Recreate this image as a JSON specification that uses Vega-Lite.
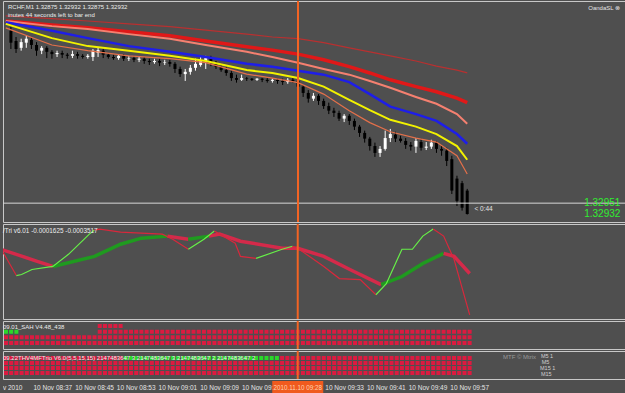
{
"$schema": "https://vega.github.io/schema/vega-lite/v6.json",
"background": "#4f4f4f",
"padding": 0,
"spacing": 2,
"bounds": "flush",
"config": {"view": {"stroke": "#c8c8c8", "strokeWidth": 1}, "text": {"font": "Liberation Sans"}, "axis": {"labelFont": "Liberation Sans"}},
"datasets": {
"candles": [
{"t":"2010-11-10T08:32:00Z","o":1.33253,"h":1.33260,"l":1.33221,"c":1.33232},
{"t":"2010-11-10T08:33:00Z","o":1.33235,"h":1.33242,"l":1.33214,"c":1.33221},
{"t":"2010-11-10T08:34:00Z","o":1.33223,"h":1.33239,"l":1.33218,"c":1.33233},
{"t":"2010-11-10T08:35:00Z","o":1.33232,"h":1.33244,"l":1.33223,"c":1.33239},
{"t":"2010-11-10T08:36:00Z","o":1.33237,"h":1.33242,"l":1.33221,"c":1.33228},
{"t":"2010-11-10T08:37:00Z","o":1.33228,"h":1.33233,"l":1.33209,"c":1.33218},
{"t":"2010-11-10T08:38:00Z","o":1.33218,"h":1.33226,"l":1.33212,"c":1.33223},
{"t":"2010-11-10T08:39:00Z","o":1.33223,"h":1.33226,"l":1.33205,"c":1.33216},
{"t":"2010-11-10T08:40:00Z","o":1.33216,"h":1.33219,"l":1.33204,"c":1.33212},
{"t":"2010-11-10T08:41:00Z","o":1.33212,"h":1.33218,"l":1.33207,"c":1.33214},
{"t":"2010-11-10T08:42:00Z","o":1.33214,"h":1.33218,"l":1.33205,"c":1.33211},
{"t":"2010-11-10T08:43:00Z","o":1.33211,"h":1.33214,"l":1.33204,"c":1.33209},
{"t":"2010-11-10T08:44:00Z","o":1.33209,"h":1.33218,"l":1.33205,"c":1.33212},
{"t":"2010-11-10T08:45:00Z","o":1.33212,"h":1.33216,"l":1.33204,"c":1.33209},
{"t":"2010-11-10T08:46:00Z","o":1.33209,"h":1.33212,"l":1.33204,"c":1.33207},
{"t":"2010-11-10T08:47:00Z","o":1.33207,"h":1.33212,"l":1.33204,"c":1.33209},
{"t":"2010-11-10T08:48:00Z","o":1.33207,"h":1.33221,"l":1.33200,"c":1.33218},
{"t":"2010-11-10T08:49:00Z","o":1.33214,"h":1.33223,"l":1.33207,"c":1.33219},
{"t":"2010-11-10T08:50:00Z","o":1.33218,"h":1.33221,"l":1.33205,"c":1.33211},
{"t":"2010-11-10T08:51:00Z","o":1.33211,"h":1.33214,"l":1.33204,"c":1.33207},
{"t":"2010-11-10T08:52:00Z","o":1.33207,"h":1.33211,"l":1.33202,"c":1.33205},
{"t":"2010-11-10T08:53:00Z","o":1.33205,"h":1.33212,"l":1.33202,"c":1.33209},
{"t":"2010-11-10T08:54:00Z","o":1.33209,"h":1.33212,"l":1.33200,"c":1.33204},
{"t":"2010-11-10T08:55:00Z","o":1.33204,"h":1.33209,"l":1.33200,"c":1.33205},
{"t":"2010-11-10T08:56:00Z","o":1.33205,"h":1.33209,"l":1.33198,"c":1.33202},
{"t":"2010-11-10T08:57:00Z","o":1.33202,"h":1.33207,"l":1.33198,"c":1.33204},
{"t":"2010-11-10T08:58:00Z","o":1.33204,"h":1.33207,"l":1.33195,"c":1.33200},
{"t":"2010-11-10T08:59:00Z","o":1.33200,"h":1.33204,"l":1.33193,"c":1.33198},
{"t":"2010-11-10T09:00:00Z","o":1.33198,"h":1.33204,"l":1.33195,"c":1.33200},
{"t":"2010-11-10T09:01:00Z","o":1.33200,"h":1.33204,"l":1.33191,"c":1.33197},
{"t":"2010-11-10T09:02:00Z","o":1.33197,"h":1.33202,"l":1.33193,"c":1.33198},
{"t":"2010-11-10T09:03:00Z","o":1.33198,"h":1.33202,"l":1.33190,"c":1.33195},
{"t":"2010-11-10T09:04:00Z","o":1.33195,"h":1.33198,"l":1.33179,"c":1.33186},
{"t":"2010-11-10T09:05:00Z","o":1.33186,"h":1.33190,"l":1.33172,"c":1.33177},
{"t":"2010-11-10T09:06:00Z","o":1.33177,"h":1.33186,"l":1.33165,"c":1.33181},
{"t":"2010-11-10T09:07:00Z","o":1.33181,"h":1.33193,"l":1.33176,"c":1.33188},
{"t":"2010-11-10T09:08:00Z","o":1.33188,"h":1.33204,"l":1.33183,"c":1.33195},
{"t":"2010-11-10T09:09:00Z","o":1.33193,"h":1.33207,"l":1.33190,"c":1.33200},
{"t":"2010-11-10T09:10:00Z","o":1.33200,"h":1.33209,"l":1.33186,"c":1.33205},
{"t":"2010-11-10T09:11:00Z","o":1.33204,"h":1.33209,"l":1.33191,"c":1.33197},
{"t":"2010-11-10T09:12:00Z","o":1.33197,"h":1.33200,"l":1.33186,"c":1.33190},
{"t":"2010-11-10T09:13:00Z","o":1.33190,"h":1.33195,"l":1.33181,"c":1.33184},
{"t":"2010-11-10T09:14:00Z","o":1.33184,"h":1.33190,"l":1.33174,"c":1.33179},
{"t":"2010-11-10T09:15:00Z","o":1.33179,"h":1.33183,"l":1.33165,"c":1.33170},
{"t":"2010-11-10T09:16:00Z","o":1.33170,"h":1.33176,"l":1.33162,"c":1.33167},
{"t":"2010-11-10T09:17:00Z","o":1.33167,"h":1.33176,"l":1.33165,"c":1.33170},
{"t":"2010-11-10T09:18:00Z","o":1.33170,"h":1.33172,"l":1.33165,"c":1.33169},
{"t":"2010-11-10T09:19:00Z","o":1.33169,"h":1.33170,"l":1.33165,"c":1.33167},
{"t":"2010-11-10T09:20:00Z","o":1.33167,"h":1.33170,"l":1.33165,"c":1.33169},
{"t":"2010-11-10T09:21:00Z","o":1.33169,"h":1.33170,"l":1.33163,"c":1.33167},
{"t":"2010-11-10T09:22:00Z","o":1.33167,"h":1.33170,"l":1.33162,"c":1.33165},
{"t":"2010-11-10T09:23:00Z","o":1.33165,"h":1.33169,"l":1.33162,"c":1.33167},
{"t":"2010-11-10T09:24:00Z","o":1.33167,"h":1.33169,"l":1.33160,"c":1.33165},
{"t":"2010-11-10T09:25:00Z","o":1.33165,"h":1.33169,"l":1.33158,"c":1.33163},
{"t":"2010-11-10T09:26:00Z","o":1.33163,"h":1.33170,"l":1.33160,"c":1.33167},
{"t":"2010-11-10T09:27:00Z","o":1.33167,"h":1.33170,"l":1.33162,"c":1.33165},
{"t":"2010-11-10T09:28:00Z","o":1.33165,"h":1.33169,"l":1.33148,"c":1.33155},
{"t":"2010-11-10T09:29:00Z","o":1.33155,"h":1.33158,"l":1.33137,"c":1.33144},
{"t":"2010-11-10T09:30:00Z","o":1.33144,"h":1.33149,"l":1.33127,"c":1.33134},
{"t":"2010-11-10T09:31:00Z","o":1.33134,"h":1.33144,"l":1.33130,"c":1.33139},
{"t":"2010-11-10T09:32:00Z","o":1.33139,"h":1.33142,"l":1.33123,"c":1.33130},
{"t":"2010-11-10T09:33:00Z","o":1.33130,"h":1.33134,"l":1.33116,"c":1.33121},
{"t":"2010-11-10T09:34:00Z","o":1.33121,"h":1.33127,"l":1.33107,"c":1.33113},
{"t":"2010-11-10T09:35:00Z","o":1.33113,"h":1.33118,"l":1.33102,"c":1.33109},
{"t":"2010-11-10T09:36:00Z","o":1.33109,"h":1.33113,"l":1.33095,"c":1.33099},
{"t":"2010-11-10T09:37:00Z","o":1.33099,"h":1.33107,"l":1.33093,"c":1.33104},
{"t":"2010-11-10T09:38:00Z","o":1.33104,"h":1.33107,"l":1.33088,"c":1.33095},
{"t":"2010-11-10T09:39:00Z","o":1.33095,"h":1.33099,"l":1.33079,"c":1.33085},
{"t":"2010-11-10T09:40:00Z","o":1.33085,"h":1.33088,"l":1.33067,"c":1.33074},
{"t":"2010-11-10T09:41:00Z","o":1.33074,"h":1.33078,"l":1.33057,"c":1.33064},
{"t":"2010-11-10T09:42:00Z","o":1.33064,"h":1.33067,"l":1.33043,"c":1.33051},
{"t":"2010-11-10T09:43:00Z","o":1.33051,"h":1.33057,"l":1.33032,"c":1.33039},
{"t":"2010-11-10T09:44:00Z","o":1.33039,"h":1.33051,"l":1.33032,"c":1.33046},
{"t":"2010-11-10T09:45:00Z","o":1.33046,"h":1.33078,"l":1.33043,"c":1.33065},
{"t":"2010-11-10T09:46:00Z","o":1.33065,"h":1.33081,"l":1.33058,"c":1.33072},
{"t":"2010-11-10T09:47:00Z","o":1.33071,"h":1.33076,"l":1.33058,"c":1.33064},
{"t":"2010-11-10T09:48:00Z","o":1.33064,"h":1.33069,"l":1.33057,"c":1.33060},
{"t":"2010-11-10T09:49:00Z","o":1.33060,"h":1.33065,"l":1.33046,"c":1.33053},
{"t":"2010-11-10T09:50:00Z","o":1.33053,"h":1.33058,"l":1.33043,"c":1.33050},
{"t":"2010-11-10T09:51:00Z","o":1.33050,"h":1.33065,"l":1.33039,"c":1.33060},
{"t":"2010-11-10T09:52:00Z","o":1.33058,"h":1.33064,"l":1.33043,"c":1.33048},
{"t":"2010-11-10T09:53:00Z","o":1.33048,"h":1.33058,"l":1.33044,"c":1.33050},
{"t":"2010-11-10T09:54:00Z","o":1.33050,"h":1.33062,"l":1.33046,"c":1.33057},
{"t":"2010-11-10T09:55:00Z","o":1.33057,"h":1.33060,"l":1.33039,"c":1.33046},
{"t":"2010-11-10T09:56:00Z","o":1.33046,"h":1.33051,"l":1.33034,"c":1.33043},
{"t":"2010-11-10T09:57:00Z","o":1.33043,"h":1.33048,"l":1.33016,"c":1.33025},
{"t":"2010-11-10T09:58:00Z","o":1.33028,"h":1.33034,"l":1.32967,"c":1.32973},
{"t":"2010-11-10T09:59:00Z","o":1.32994,"h":1.32999,"l":1.32946,"c":1.32955},
{"t":"2010-11-10T10:00:00Z","o":1.32986,"h":1.32990,"l":1.32938,"c":1.32943},
{"t":"2010-11-10T10:01:00Z","o":1.32973,"h":1.32976,"l":1.32931,"c":1.32932}
],
"ma": [
{"t":"2010-11-10T08:31:00Z","tr":1.33279,"rd":1.33270,"sa":1.33270,"bl":1.33268,"ye":1.33265,"ob":1.33258},
{"t":"2010-11-10T08:40:00Z","tr":1.33274,"rd":1.33263,"sa":1.33261,"bl":1.33253,"ye":1.33240,"ob":1.33228},
{"t":"2010-11-10T08:47:00Z","tr":1.33270,"rd":1.33258,"sa":1.33256,"bl":1.33240,"ye":1.33226,"ob":1.33218},
{"t":"2010-11-10T08:55:00Z","tr":1.33265,"rd":1.33251,"sa":1.33247,"bl":1.33226,"ye":1.33218,"ob":1.33209},
{"t":"2010-11-10T09:03:00Z","tr":1.33260,"rd":1.33244,"sa":1.33239,"bl":1.33216,"ye":1.33209,"ob":1.33204},
{"t":"2010-11-10T09:10:00Z","tr":1.33254,"rd":1.33235,"sa":1.33228,"bl":1.33207,"ye":1.33200,"ob":1.33197},
{"t":"2010-11-10T09:18:00Z","tr":1.33247,"rd":1.33225,"sa":1.33216,"bl":1.33195,"ye":1.33184,"ob":1.33177},
{"t":"2010-11-10T09:23:00Z","tr":1.33242,"rd":1.33219,"sa":1.33207,"bl":1.33190,"ye":1.33179,"ob":1.33170},
{"t":"2010-11-10T09:28:00Z","tr":1.33239,"rd":1.33212,"sa":1.33197,"bl":1.33183,"ye":1.33170,"ob":1.33162},
{"t":"2010-11-10T09:33:00Z","tr":1.33232,"rd":1.33202,"sa":1.33186,"bl":1.33176,"ye":1.33155,"ob":1.33142},
{"t":"2010-11-10T09:38:00Z","tr":1.33223,"rd":1.33190,"sa":1.33176,"bl":1.33163,"ye":1.33132,"ob":1.33113},
{"t":"2010-11-10T09:42:00Z","tr":1.33216,"rd":1.33179,"sa":1.33165,"bl":1.33142,"ye":1.33114,"ob":1.33092},
{"t":"2010-11-10T09:46:00Z","tr":1.33209,"rd":1.33167,"sa":1.33153,"bl":1.33120,"ye":1.33097,"ob":1.33076},
{"t":"2010-11-10T09:51:00Z","tr":1.33200,"rd":1.33155,"sa":1.33137,"bl":1.33107,"ye":1.33085,"ob":1.33065},
{"t":"2010-11-10T09:55:00Z","tr":1.33191,"rd":1.33146,"sa":1.33125,"bl":1.33095,"ye":1.33072,"ob":1.33058},
{"t":"2010-11-10T09:59:00Z","tr":1.33184,"rd":1.33135,"sa":1.33107,"bl":1.33072,"ye":1.33051,"ob":1.33034},
{"t":"2010-11-10T10:01:00Z","tr":1.33179,"rd":1.33127,"sa":1.33090,"bl":1.33055,"ye":1.33027,"ob":1.33002}
],
"ithk": [
{"s":"A","c":"r","t":"2010-11-10T08:31:00Z","v":-0.00011},
{"s":"A","c":"r","t":"2010-11-10T08:34:00Z","v":-0.00016},
{"s":"A","c":"r","t":"2010-11-10T08:38:00Z","v":-0.00023},
{"s":"A","c":"r","t":"2010-11-10T08:41:00Z","v":-0.00028},
{"s":"B","c":"g","t":"2010-11-10T08:41:00Z","v":-0.00028},
{"s":"B","c":"g","t":"2010-11-10T08:49:00Z","v":-0.00018},
{"s":"B","c":"g","t":"2010-11-10T08:54:00Z","v":-0.00006},
{"s":"B","c":"g","t":"2010-11-10T08:58:00Z","v":0},
{"s":"B","c":"g","t":"2010-11-10T09:03:00Z","v":0.00002},
{"s":"C","c":"r","t":"2010-11-10T09:03:00Z","v":0.00002},
{"s":"C","c":"r","t":"2010-11-10T09:07:00Z","v":-0.00001},
{"s":"D","c":"g","t":"2010-11-10T09:07:00Z","v":-0.00001},
{"s":"D","c":"g","t":"2010-11-10T09:11:00Z","v":0.00002},
{"s":"E","c":"r","t":"2010-11-10T09:11:00Z","v":0.00002},
{"s":"E","c":"r","t":"2010-11-10T09:13:00Z","v":0.00004},
{"s":"E","c":"r","t":"2010-11-10T09:17:00Z","v":-0.00003},
{"s":"E","c":"r","t":"2010-11-10T09:25:00Z","v":-0.0001},
{"s":"E","c":"r","t":"2010-11-10T09:28:00Z","v":-0.0001},
{"s":"E","c":"r","t":"2010-11-10T09:33:00Z","v":-0.00018},
{"s":"E","c":"r","t":"2010-11-10T09:38:00Z","v":-0.00031},
{"s":"E","c":"r","t":"2010-11-10T09:44:00Z","v":-0.00046},
{"s":"F","c":"g","t":"2010-11-10T09:44:00Z","v":-0.00046},
{"s":"F","c":"g","t":"2010-11-10T09:48:00Z","v":-0.00038},
{"s":"F","c":"g","t":"2010-11-10T09:52:00Z","v":-0.00025},
{"s":"F","c":"g","t":"2010-11-10T09:56:00Z","v":-0.00015},
{"s":"G","c":"r","t":"2010-11-10T09:56:00Z","v":-0.00015},
{"s":"G","c":"r","t":"2010-11-10T09:58:00Z","v":-0.00018},
{"s":"G","c":"r","t":"2010-11-10T10:01:00Z","v":-0.00035}
],
"ithn": [
{"s":"a","c":"r","t":"2010-11-10T08:31:00Z","v":-0.0001},
{"s":"a","c":"r","t":"2010-11-10T08:34:00Z","v":-0.00037},
{"s":"b","c":"g","t":"2010-11-10T08:34:00Z","v":-0.00037},
{"s":"b","c":"g","t":"2010-11-10T08:35:00Z","v":-0.00036},
{"s":"b","c":"g","t":"2010-11-10T08:37:00Z","v":-0.00031},
{"s":"b","c":"g","t":"2010-11-10T08:41:00Z","v":-0.00028},
{"s":"b","c":"g","t":"2010-11-10T08:44:00Z","v":-0.00016},
{"s":"b","c":"g","t":"2010-11-10T08:48:00Z","v":0.00004},
{"s":"b","c":"g","t":"2010-11-10T08:49:00Z","v":0.00008},
{"s":"c","c":"r","t":"2010-11-10T08:49:00Z","v":0.00008},
{"s":"c","c":"r","t":"2010-11-10T08:50:00Z","v":0.00009},
{"s":"c","c":"r","t":"2010-11-10T08:54:00Z","v":0.00006},
{"s":"c","c":"r","t":"2010-11-10T09:02:00Z","v":0.00004},
{"s":"c","c":"r","t":"2010-11-10T09:04:00Z","v":-0.00001},
{"s":"c","c":"r","t":"2010-11-10T09:07:00Z","v":-0.00011},
{"s":"d","c":"g","t":"2010-11-10T09:07:00Z","v":-0.00011},
{"s":"d","c":"g","t":"2010-11-10T09:10:00Z","v":-0.00001},
{"s":"d","c":"g","t":"2010-11-10T09:12:00Z","v":0.00007},
{"s":"e","c":"r","t":"2010-11-10T09:12:00Z","v":0.00007},
{"s":"e","c":"r","t":"2010-11-10T09:16:00Z","v":-0.00005},
{"s":"e","c":"r","t":"2010-11-10T09:17:00Z","v":-0.00018},
{"s":"e","c":"r","t":"2010-11-10T09:20:00Z","v":-0.0002},
{"s":"f","c":"g","t":"2010-11-10T09:20:00Z","v":-0.0002},
{"s":"f","c":"g","t":"2010-11-10T09:25:00Z","v":-0.00011},
{"s":"f","c":"g","t":"2010-11-10T09:27:00Z","v":-0.00008},
{"s":"g","c":"r","t":"2010-11-10T09:27:00Z","v":-0.00008},
{"s":"g","c":"r","t":"2010-11-10T09:28:00Z","v":-0.0001},
{"s":"g","c":"r","t":"2010-11-10T09:33:00Z","v":-0.00028},
{"s":"g","c":"r","t":"2010-11-10T09:36:00Z","v":-0.0004},
{"s":"g","c":"r","t":"2010-11-10T09:40:00Z","v":-0.00041},
{"s":"g","c":"r","t":"2010-11-10T09:43:00Z","v":-0.00056},
{"s":"h","c":"g","t":"2010-11-10T09:43:00Z","v":-0.00056},
{"s":"h","c":"g","t":"2010-11-10T09:45:00Z","v":-0.00045},
{"s":"h","c":"g","t":"2010-11-10T09:48:00Z","v":-0.00011},
{"s":"h","c":"g","t":"2010-11-10T09:50:00Z","v":-0.00011},
{"s":"h","c":"g","t":"2010-11-10T09:52:00Z","v":0.00002},
{"s":"h","c":"g","t":"2010-11-10T09:54:00Z","v":0.00009},
{"s":"i","c":"r","t":"2010-11-10T09:54:00Z","v":0.00009},
{"s":"i","c":"r","t":"2010-11-10T09:56:00Z","v":0.00002},
{"s":"i","c":"r","t":"2010-11-10T09:58:00Z","v":-0.00021},
{"s":"i","c":"r","t":"2010-11-10T10:01:00Z","v":-0.00076}
],
"sq3": [
{"row":1,"s":"dn","t0":"2010-11-10T08:49:30Z","t1":"2010-11-10T08:54:30Z"},
{"row":2,"s":"up","t0":"2010-11-10T08:31:30Z","t1":"2010-11-10T08:34:30Z"},
{"row":2,"s":"dn","t0":"2010-11-10T08:49:30Z","t1":"2010-11-10T10:01:30Z"},
{"row":3,"s":"dn","t0":"2010-11-10T08:31:30Z","t1":"2010-11-10T10:01:30Z"},
{"row":4,"s":"dn","t0":"2010-11-10T08:31:30Z","t1":"2010-11-10T10:01:30Z"}
],
"sq4": [
{"row":1,"s":"dn","t0":"2010-11-10T08:31:30Z","t1":"2010-11-10T08:54:30Z"},
{"row":1,"s":"up","t0":"2010-11-10T08:54:30Z","t1":"2010-11-10T09:24:30Z"},
{"row":1,"s":"dn","t0":"2010-11-10T09:24:30Z","t1":"2010-11-10T10:01:30Z"},
{"row":2,"s":"dn","t0":"2010-11-10T08:31:30Z","t1":"2010-11-10T10:01:30Z"},
{"row":3,"s":"dn","t0":"2010-11-10T08:31:30Z","t1":"2010-11-10T10:01:30Z"},
{"row":4,"s":"dn","t0":"2010-11-10T08:31:30Z","t1":"2010-11-10T10:01:30Z"}
],
"xlabels": [
{"t":"2010-11-10T08:37:00Z","label":"10 Nov 08:37"},
{"t":"2010-11-10T08:45:00Z","label":"10 Nov 08:45"},
{"t":"2010-11-10T08:53:00Z","label":"10 Nov 08:53"},
{"t":"2010-11-10T09:01:00Z","label":"10 Nov 09:01"},
{"t":"2010-11-10T09:09:00Z","label":"10 Nov 09:09"},
{"t":"2010-11-10T09:17:00Z","label":"10 Nov 09:17"},
{"t":"2010-11-10T09:33:00Z","label":"10 Nov 09:33"},
{"t":"2010-11-10T09:41:00Z","label":"10 Nov 09:41"},
{"t":"2010-11-10T09:49:00Z","label":"10 Nov 09:49"},
{"t":"2010-11-10T09:57:00Z","label":"10 Nov 09:57"}
],
"cursor": [{"t":"2010-11-10T09:28:00Z","label":"2010.11.10 09:28"}]
},
"vconcat": [
{
"width": 625, "height": 221,
"layer": [
{"data":{"name":"candles"},"mark":{"type":"rule","strokeWidth":1},
"encoding":{
"x":{"field":"t","type":"temporal","scale":{"type":"utc","domain":[1289377886000,1289385083000]},"axis":{"values":[1289378220000,1289378700000,1289379180000,1289379660000,1289380140000,1289380620000,1289381100000,1289381580000,1289382060000,1289382540000,1289383020000,1289383500000,1289383980000,1289384460000,1289384940000],"grid":true,"gridColor":"#7a7a7a","gridDash":[2,2],"labels":false,"ticks":false,"domain":false,"title":null}},
"y":{"field":"l","type":"quantitative","scale":{"domain":[1.32918,1.33305],"zero":false,"nice":false},"axis":{"values":[1.32952,1.3299,1.33028,1.33066,1.33104,1.33142,1.3318,1.33218,1.33256,1.33294],"grid":true,"gridColor":"#7a7a7a","gridDash":[2,2],"labels":false,"ticks":false,"domain":false,"title":null,"minExtent":0}},
"y2":{"field":"h"},
"color":{"condition":{"test":"datum.c >= datum.o","value":"#ffffff"},"value":"#000000"}}},
{"data":{"name":"candles"},"mark":{"type":"bar","size":3},
"encoding":{
"x":{"field":"t","type":"temporal","scale":{"type":"utc","domain":[1289377886000,1289385083000]},"axis":null},
"y":{"field":"o","type":"quantitative","scale":{"domain":[1.32918,1.33305],"zero":false,"nice":false},"axis":null},
"y2":{"field":"c"},
"color":{"condition":{"test":"datum.c >= datum.o","value":"#ffffff"},"value":"#000000"}}},
{"data":{"name":"ma"},"mark":{"type":"line","color":"#b83030","strokeWidth":1.2,"clip":true},
"encoding":{"x":{"field":"t","type":"temporal","axis":null},"y":{"field":"tr","type":"quantitative","axis":null}}},
{"data":{"name":"ma"},"mark":{"type":"line","color":"#e01818","strokeWidth":3.5,"clip":true},
"encoding":{"x":{"field":"t","type":"temporal","axis":null},"y":{"field":"rd","type":"quantitative","axis":null}}},
{"data":{"name":"ma"},"mark":{"type":"line","color":"#f58070","strokeWidth":2,"clip":true},
"encoding":{"x":{"field":"t","type":"temporal","axis":null},"y":{"field":"sa","type":"quantitative","axis":null}}},
{"data":{"name":"ma"},"mark":{"type":"line","color":"#1e1ee8","strokeWidth":2.5,"clip":true},
"encoding":{"x":{"field":"t","type":"temporal","axis":null},"y":{"field":"bl","type":"quantitative","axis":null}}},
{"data":{"name":"ma"},"mark":{"type":"line","color":"#f2f200","strokeWidth":2,"clip":true},
"encoding":{"x":{"field":"t","type":"temporal","axis":null},"y":{"field":"ye","type":"quantitative","axis":null}}},
{"data":{"name":"ma"},"mark":{"type":"line","color":"#e4704a","strokeWidth":1.2,"clip":true},
"encoding":{"x":{"field":"t","type":"temporal","axis":null},"y":{"field":"ob","type":"quantitative","axis":null}}},
{"data":{"values":[{"p":1.32951}]},"mark":{"type":"rule","color":"#d8d8d8","strokeWidth":1},
"encoding":{"y":{"field":"p","type":"quantitative","axis":null}}},
{"data":{"name":"cursor"},"mark":{"type":"rule","color":"#f26424","strokeWidth":2,"clip":true},
"encoding":{"x":{"field":"t","type":"temporal","axis":null}}},
{"data":{"values":[{"t":"2010-11-10T08:31:26Z","p":1.33294,"label":"RCHF,M1 1.32875 1.32932 1.32875 1.32932"},{"t":"2010-11-10T08:31:26Z","p":1.33281,"label":"inutes 44 seconds left to bar end"}]},
"mark":{"type":"text","align":"left","baseline":"middle","fontSize":6,"color":"#ececec"},
"encoding":{"x":{"field":"t","type":"temporal","axis":null},"y":{"field":"p","type":"quantitative","axis":null},"text":{"field":"label"}}},
{"data":{"values":[{"t":"2010-11-10T10:02:25Z","p":1.32941,"label":"< 0:44"}]},
"mark":{"type":"text","align":"left","baseline":"middle","fontSize":6.5,"color":"#e4e4e4"},
"encoding":{"x":{"field":"t","type":"temporal","axis":null},"y":{"field":"p","type":"quantitative","axis":null},"text":{"field":"label"}}},
{"data":{"values":[{"t":"2010-11-10T10:30:49Z","p":1.33293,"label":"OandaSL ⊗"}]},
"mark":{"type":"text","align":"right","baseline":"middle","fontSize":6,"color":"#e4e4e4"},
"encoding":{"x":{"field":"t","type":"temporal","axis":null},"y":{"field":"p","type":"quantitative","axis":null},"text":{"field":"label"}}},
{"data":{"values":[{"t":"2010-11-10T10:30:52Z","p":1.32951,"label":"1.32951"},{"t":"2010-11-10T10:30:52Z","p":1.32932,"label":"1.32932"}]},
"mark":{"type":"text","align":"right","baseline":"middle","fontSize":10,"color":"#30f030"},
"encoding":{"x":{"field":"t","type":"temporal","axis":null},"y":{"field":"p","type":"quantitative","axis":null},"text":{"field":"label"}}}
]
},
{
"width": 625, "height": 95,
"layer": [
{"data":{"name":"ithk"},"mark":{"type":"line","strokeWidth":3.5,"clip":true},
"encoding":{
"x":{"field":"t","type":"temporal","scale":{"type":"utc","domain":[1289377886000,1289385083000]},"axis":{"values":[1289378220000,1289378700000,1289379180000,1289379660000,1289380140000,1289380620000,1289381100000,1289381580000,1289382060000,1289382540000,1289383020000,1289383500000,1289383980000,1289384460000,1289384940000],"grid":true,"gridColor":"#7a7a7a","gridDash":[2,2],"labels":false,"ticks":false,"domain":false,"title":null}},
"y":{"field":"v","type":"quantitative","scale":{"domain":[-0.0008,0.00014],"zero":false,"nice":false},"axis":{"values":[0],"grid":true,"gridColor":"#a8a8a8","gridDash":[3,3],"labels":false,"ticks":false,"domain":false,"title":null,"minExtent":0}},
"detail":{"field":"s"},
"color":{"condition":{"test":"datum.c == 'g'","value":"#1f9a1f"},"value":"#d42a4a"}}},
{"data":{"name":"ithn"},"mark":{"type":"line","strokeWidth":1.2,"clip":true},
"encoding":{
"x":{"field":"t","type":"temporal","axis":null},
"y":{"field":"v","type":"quantitative","axis":null},
"detail":{"field":"s"},
"color":{"condition":{"test":"datum.c == 'g'","value":"#66f048"},"value":"#d8283c"}}},
{"data":{"name":"cursor"},"mark":{"type":"rule","color":"#f26424","strokeWidth":2,"clip":true},
"encoding":{"x":{"field":"t","type":"temporal","axis":null}}},
{"data":{"values":[{"t":"2010-11-10T08:31:26Z","v":0.00007,"label":"/Tri v6.01 -0.0001625 -0.0003517"}]},
"mark":{"type":"text","align":"left","baseline":"middle","fontSize":6.4,"color":"#ececec"},
"encoding":{"x":{"field":"t","type":"temporal","axis":null},"y":{"field":"v","type":"quantitative","axis":null},"text":{"field":"label"}}}
]
},
{
"width": 625, "height": 28,
"layer": [
{"data":{"name":"sq3"},"mark":{"type":"rule","strokeWidth":4,"strokeDash":[4,1.21],"strokeDashOffset":4.605},
"encoding":{
"x":{"field":"t0","type":"temporal","scale":{"type":"utc","domain":[1289377886000,1289385083000]},"axis":{"values":[1289378220000,1289378700000,1289379180000,1289379660000,1289380140000,1289380620000,1289381100000,1289381580000,1289382060000,1289382540000,1289383020000,1289383500000,1289383980000,1289384460000,1289384940000],"grid":true,"gridColor":"#7a7a7a","gridDash":[2,2],"labels":false,"ticks":false,"domain":false,"title":null}},
"x2":{"field":"t1"},
"y":{"field":"row","type":"quantitative","scale":{"domain":[0.12,5.06],"reverse":true,"zero":false,"nice":false},"axis":null},
"color":{"condition":{"test":"datum.s == 'up'","value":"#2ad82a"},"value":"#dc1a40"}}},
{"data":{"values":[{"t":"2010-11-10T08:31:26Z","row":1.25,"label":"09.01_SAH V4.48_438"}]},
"mark":{"type":"text","align":"left","baseline":"middle","fontSize":6,"color":"#ececec"},
"encoding":{"x":{"field":"t","type":"temporal","axis":null},"y":{"field":"row","type":"quantitative","axis":null},"text":{"field":"label"}}},
{"data":{"name":"cursor"},"mark":{"type":"rule","color":"#f26424","strokeWidth":2,"clip":true},
"encoding":{"x":{"field":"t","type":"temporal","axis":null}}}
]
},
{
"width": 625, "height": 28,
"layer": [
{"data":{"name":"sq4"},"mark":{"type":"rule","strokeWidth":4,"strokeDash":[4,1.21],"strokeDashOffset":4.605},
"encoding":{
"x":{"field":"t0","type":"temporal","scale":{"type":"utc","domain":[1289377886000,1289385083000]},"axis":{"values":[1289378220000,1289378700000,1289379180000,1289379660000,1289380140000,1289380620000,1289381100000,1289381580000,1289382060000,1289382540000,1289383020000,1289383500000,1289383980000,1289384460000,1289384940000],"grid":true,"gridColor":"#7a7a7a","gridDash":[2,2],"labels":false,"ticks":false,"domain":false,"title":null}},
"x2":{"field":"t1"},
"y":{"field":"row","type":"quantitative","scale":{"domain":[-0.4,5.2],"reverse":true,"zero":false,"nice":false},"axis":null},
"color":{"condition":{"test":"datum.s == 'up'","value":"#2ad82a"},"value":"#dc1a40"}}},
{"data":{"values":[{"t":"2010-11-10T08:31:26Z","row":1,"label":"09.22THV4MFTrio V6.0(5,5,15,15) 2147483647 3 2147483647 3 2147483647 2 2147483647 2"}]},
"mark":{"type":"text","align":"left","baseline":"middle","fontSize":6,"color":"#ececec"},
"encoding":{"x":{"field":"t","type":"temporal","axis":null},"y":{"field":"row","type":"quantitative","axis":null},"text":{"field":"label"}}},
{"data":{"values":[{"t":"2010-11-10T10:07:24Z","row":0.8,"label":"MTF © Mtrix"}]},
"mark":{"type":"text","align":"left","baseline":"middle","fontSize":6,"color":"#9a9a9a"},
"encoding":{"x":{"field":"t","type":"temporal","axis":null},"y":{"field":"row","type":"quantitative","axis":null},"text":{"field":"label"}}},
{"data":{"values":[{"t":"2010-11-10T10:14:40Z","row":0.6,"label":"M5 1"},{"t":"2010-11-10T10:14:50Z","row":1.8,"label":"M5"},{"t":"2010-11-10T10:14:30Z","row":3.0,"label":"M15 1"},{"t":"2010-11-10T10:14:40Z","row":4.2,"label":"M15"}]},
"mark":{"type":"text","align":"left","baseline":"middle","fontSize":5.5,"color":"#d0d0d0"},
"encoding":{"x":{"field":"t","type":"temporal","axis":null},"y":{"field":"row","type":"quantitative","axis":null},"text":{"field":"label"}}},
{"data":{"name":"cursor"},"mark":{"type":"rule","color":"#f26424","strokeWidth":2,"clip":true},
"encoding":{"x":{"field":"t","type":"temporal","axis":null}}}
]
},
{
"width": 625, "height": 13,
"view": {"stroke": null},
"layer": [
{"data":{"name":"xlabels"},"mark":{"type":"text","fontSize":6.5,"color":"#e4e4e4","align":"left","baseline":"middle","dx":1.5},
"encoding":{"x":{"field":"t","type":"temporal","scale":{"type":"utc","domain":[1289377886000,1289385083000]},"axis":null},"text":{"field":"label"}}},
{"data":{"name":"cursor"},"mark":{"type":"tick","color":"#f05a1e","thickness":51,"size":13,"opacity":1},
"encoding":{"x":{"field":"t","type":"temporal","axis":null}}},
{"data":{"name":"cursor"},"mark":{"type":"text","fontSize":6.3,"color":"#ffd2b0","align":"center","baseline":"middle"},
"encoding":{"x":{"field":"t","type":"temporal","axis":null},"text":{"field":"label"}}},
{"data":{"values":[{"t":"2010-11-10T08:35:10Z","label":"10 Nov 2010"}]},
"mark":{"type":"text","fontSize":6.5,"color":"#e4e4e4","align":"right","baseline":"middle","clip":true},
"encoding":{"x":{"field":"t","type":"temporal","axis":null},"text":{"field":"label"}}}
]
}
]
}
